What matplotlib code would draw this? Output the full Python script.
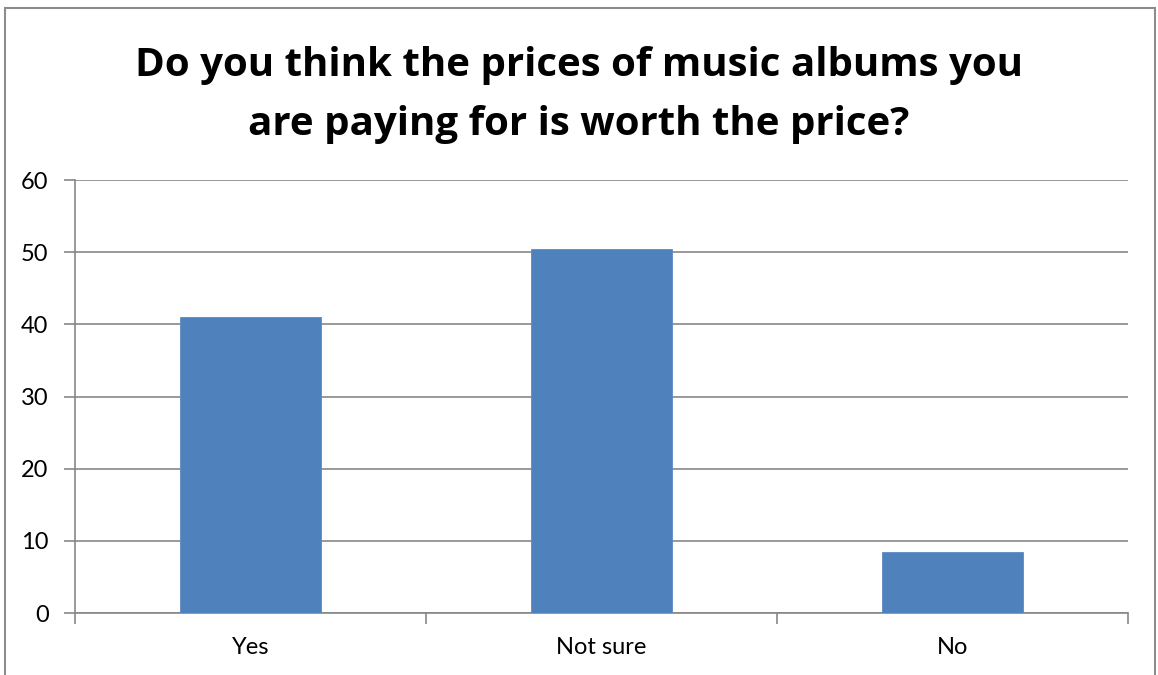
import matplotlib
matplotlib.use("Agg")
import matplotlib.pyplot as plt
from matplotlib.patches import Rectangle

categories = ["Yes", "Not sure", "No"]
values = [41, 50.5, 8.5]
yticks = [0, 10, 20, 30, 40, 50, 60]
title = "Do you think the prices of music albums you\nare paying for is worth the price?"

W, H = 1158, 675
fig = plt.figure(figsize=(W / 100, H / 100), dpi=100)
fig.patch.set_facecolor("white")

# chart frame
fig.add_artist(Rectangle((5 / W, -0.05), 1150 / W, 1 - 8 / H + 0.05,
                         transform=fig.transFigure, fill=False,
                         edgecolor="#8c8c8c", linewidth=1.5))

ax = fig.add_axes([75 / W, 1 - 613 / H, (1128 - 75) / W, (613 - 180) / H])
grid_c = "#878787"
x = list(range(len(categories)))
ax.bar(x, values, width=0.4, color="#4f81bd", edgecolor="#5b8ac4", linewidth=0.6, zorder=3)
ax.set_xlim(-0.5, len(categories) - 0.5)
ax.set_ylim(0, 60)
ax.set_yticks(yticks)
ax.set_yticklabels([str(t) for t in yticks], fontsize=17, family="Lato")
ax.yaxis.grid(True, color=grid_c, linewidth=1.2, zorder=0)
ax.set_axisbelow(True)
for s in ["top", "right"]:
    ax.spines[s].set_visible(False)
ax.spines["left"].set_color(grid_c)
ax.spines["left"].set_linewidth(1.2)
ax.spines["bottom"].set_color(grid_c)
ax.spines["bottom"].set_linewidth(1.2)
ax.tick_params(axis="y", length=8, width=1.2, color=grid_c, pad=11, labelcolor="black")

# category labels centered, ticks on category boundaries
ax.set_xticks(x)
ax.set_xticklabels(categories, fontsize=17, family="Lato")
ax.tick_params(axis="x", length=0, pad=17)
ax.set_xticks([i - 0.5 for i in range(len(categories) + 1)], minor=True)
ax.tick_params(axis="x", which="minor", length=8, width=1.2, color=grid_c)

fig.text(0.5, 1 - 95 / H, title, ha="center", va="center", fontsize=29,
         fontweight="bold", family="Open Sans", linespacing=1.65)

fig.savefig("out.png", dpi=100)
